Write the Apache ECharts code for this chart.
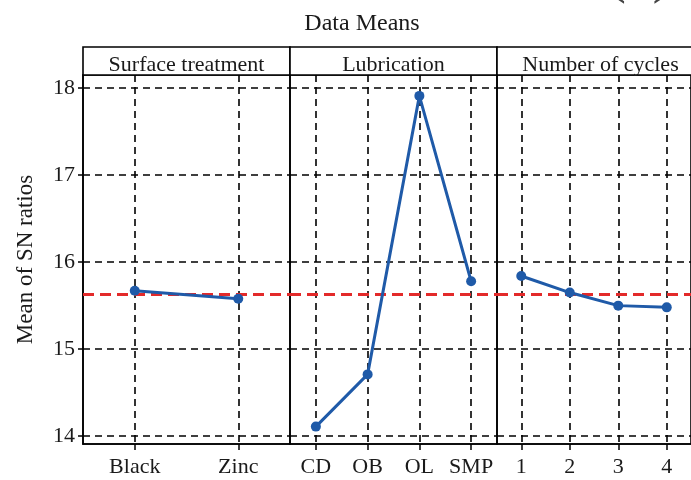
<!DOCTYPE html>
<html><head><meta charset="utf-8">
<script src="https://cdn.jsdelivr.net/npm/echarts@6/dist/echarts.min.js"></script>
<style>html,body{margin:0;padding:0;background:#fff}#c{width:691px;height:480px}</style>
</head><body><div id="c"></div>
<script>
// ---- data ----
const panelTitles = ['Surface treatment', 'Lubrication', 'Number of cycles'];
const surfaceCats = ['Black', 'Zinc'];
const surfaceVals = [15.67, 15.58];
const lubCats = ['CD', 'OB', 'OL', 'SMP'];
const lubVals = [14.11, 14.71, 17.91, 15.78];
const cycleCats = ['1', '2', '3', '4'];
const cycleVals = [15.84, 15.65, 15.50, 15.48];
const yTicks = [14, 15, 16, 17, 18];
const grandMean = 15.63;

// ---- layout / style ----
const FONT = 'Liberation Serif';
const plotTop = 75, plotBottom = 444, headerTop = 47;
const panelLeft = [83, 290, 497], panelW = 207;
const yMin = 13.91, yMax = 18.15;
const cats = [surfaceCats, lubCats, cycleCats];
const vals = [surfaceVals, lubVals, cycleVals];
const dash = {color: '#000', type: [7, 5], width: 1.6};

const chart = echarts.init(document.getElementById('c'), null, {renderer: 'canvas'});

const grids = panelLeft.map(l => ({
  left: l, top: plotTop, width: panelW, height: plotBottom - plotTop,
  show: true, borderColor: '#000', borderWidth: 1.6, backgroundColor: 'transparent'
}));

const xAxes = cats.map((c, i) => ({
  type: 'category', gridIndex: i, data: c, boundaryGap: true,
  axisLine: {show: true, lineStyle: {color: '#000', width: 1.6}},
  axisTick: {show: true, alignWithLabel: true, length: 6, lineStyle: {color: '#000', width: 1.5}},
  axisLabel: {interval: 0, color: '#1a1a1a', fontFamily: FONT, fontSize: 22, margin: 12},
  splitLine: {show: true, alignWithLabel: true, lineStyle: dash}
}));

const yAxes = cats.map((c, i) => ({
  type: 'value', gridIndex: i, min: yMin, max: yMax,
  axisLine: {show: i === 0, lineStyle: {color: '#000', width: 1.6}},
  axisTick: {show: i === 0, length: 5, customValues: yTicks, lineStyle: {color: '#000', width: 1.5}},
  axisLabel: {show: i === 0, customValues: yTicks, color: '#1a1a1a', fontFamily: FONT, fontSize: 22, margin: 8},
  splitLine: {show: true, lineStyle: dash},
  name: i === 0 ? 'Mean of SN ratios' : '',
  nameLocation: 'middle', nameGap: 46,
  nameTextStyle: {color: '#1a1a1a', fontFamily: FONT, fontSize: 23}
}));

const series = vals.map((v, i) => ({
  type: 'line', xAxisIndex: i, yAxisIndex: i, data: v,
  symbol: 'circle', symbolSize: 10, z: 5,
  lineStyle: {color: '#1f5aa8', width: 3},
  itemStyle: {color: '#1f5aa8'},
  markLine: {
    silent: true, symbol: 'none', label: {show: false}, z: 3,
    lineStyle: {color: '#e32a2a', width: 3.2, type: [11, 6], opacity: 1},
    emphasis: {disabled: true},
    data: [{yAxis: grandMean}]
  }
}));

const graphics = [];
panelLeft.forEach((l, i) => {
  graphics.push({
    type: 'rect', shape: {x: l, y: headerTop, width: panelW, height: plotTop - headerTop},
    style: {fill: '#fff', stroke: '#000', lineWidth: 1.6}, z: 10
  });
  graphics.push({
    type: 'text', x: l + panelW / 2, y: 65, z: 11,
    style: {text: panelTitles[i], fontFamily: FONT, fontSize: 22, fill: '#1a1a1a', align: 'center', verticalAlign: 'middle'}
  });
});
graphics.push({
  type: 'text', x: 606, y: 5, z: 11,
  style: {text: '(a)', fontFamily: FONT, fontSize: 60, fill: '#444', align: 'left', verticalAlign: 'bottom'}
});

chart.setOption({
  animation: false,
  backgroundColor: '#fff',
  title: {
    text: 'Data Means', left: 357, top: 7, textAlign: 'center',
    textStyle: {fontFamily: FONT, fontSize: 24, fontWeight: 'normal', color: '#1a1a1a'}
  },
  grid: grids, xAxis: xAxes, yAxis: yAxes, series: series, graphic: graphics
});
</script></body></html>
